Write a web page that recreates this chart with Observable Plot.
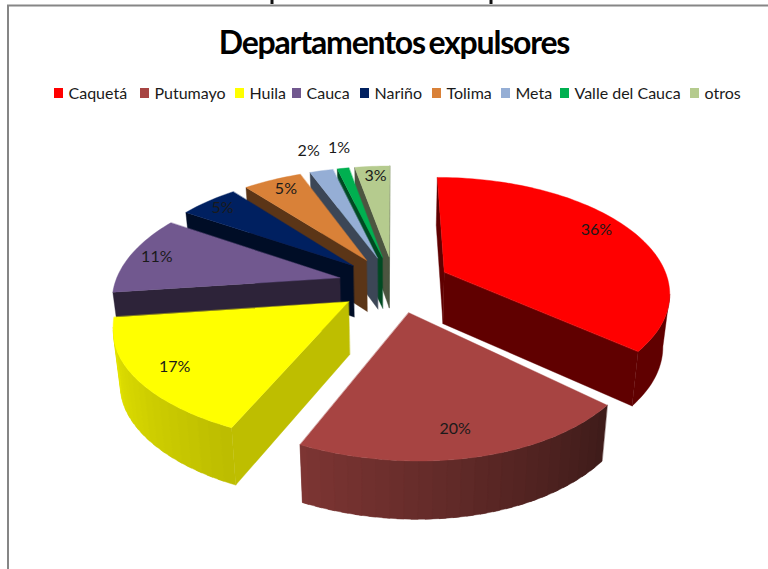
<!DOCTYPE html>
<html>
<head>
<meta charset="utf-8">
<script src="https://cdn.jsdelivr.net/npm/d3@7"></script>
<script src="https://cdn.jsdelivr.net/npm/@observablehq/plot@0.6"></script>
<style>html,body{margin:0;padding:0;background:#fff}svg{display:block}</style>
</head>
<body>
<div id="chart"></div>
<script>
// ---- chart values ----
const categories = ["Caquetá","Putumayo","Huila","Cauca","Nariño","Tolima","Meta","Valle del Cauca","otros"];
const values = [36,20,17,11,5,5,2,1,3];
const topColors = ["#ff0000","#a74442","#ffff00","#71588f","#002060","#d98138","#95aed5","#00b050","#b5cb8e"];
const endWall = ["#600000","#3f1c1a","#bebe00","#2d2339","#000d26","#5b3517","#3c4656","#004a22","#4c5540"];
const rimLeft = ["#600000","#7d3533","#e4e400","#2d2339","#000d26","#5b3517","#3c4656","#004a22","#4c5540"];
const rimRight = ["#600000","#3f1c1a","#bdbd00","#2d2339","#000d26","#5b3517","#3c4656","#004a22","#4c5540"];
const paintOrder = [8,7,6,5,4,3,2,1,0];
const legendSwatchX = [54,140,235,292,360,432,501,560,690];
const labelDx = [-4,-5,1,-7,-7,0,0,5,1];
const labelDy = [-2,1,4,2,0,0,3,3,0];
const title = "Departamentos expulsores";

// ---- projection of the tilted, exploded pie ----
const view = {cx:393.7, cy:283.5, A:225, D:113.7, p:0.163, explode:0.25, depth:52, converge:0.975, skewX:11.7, skewY:12.7};
const project = (X,Y) => {
  const w = 1 + view.p*Y;
  const t = Math.min(0,Y+0.4);
  return {
    x:view.cx + view.A*X/w + view.skewX*t,
    y:view.cy - view.D*Y/w - view.skewY*(X-0.1)*t,
    w
  };
};
const base = q => ({x:view.cx + (q.x-view.cx)*view.converge, y:q.y + view.depth/Math.sqrt(q.w)});
const rad = d => d*Math.PI/180;

let acc = 0;
const slices = values.map((v,i)=>{
  const a0 = acc/100*360; acc += v; const a1 = acc/100*360;
  const m = (a0+a1)/2;
  const ex = view.explode*Math.sin(rad(m)), ey = view.explode*Math.cos(rad(m));
  const at = (r,a)=>project(ex + r*Math.sin(rad(a)), ey + r*Math.cos(rad(a)));
  return {i,a0,a1,m,at};
});

const polys = [];
let pid = 0;
const addPoly = (pts,color)=>{ const id = pid++; pts.forEach(p=>polys.push({id,x:p.x,y:p.y,color})); };
const wall = (U,V,color)=>{ if(U.x>V.x) addPoly([U,V,base(V),base(U)],color); };

for(const idx of paintOrder){
  const s = slices[idx];
  const n = Math.max(4,Math.ceil((s.a1-s.a0)/1.5));
  const rim = d3.range(n+1).map(k=>s.at(1,s.a0+(s.a1-s.a0)*k/n));
  const apex = s.at(0,s.m);
  wall(apex,rim[0],endWall[idx]);
  wall(rim[n],apex,endWall[idx]);
  const vis = [];
  for(let k=0;k<n;k++) if(rim[k].x>rim[k+1].x) vis.push(k);
  if(vis.length){
    if(rimLeft[idx]===rimRight[idx]){
      const run = [...vis,vis[vis.length-1]+1].map(k=>rim[k]);
      addPoly([...run,...run.slice().reverse().map(base)],rimLeft[idx]);
    } else {
      const shade = d3.interpolateRgb(rimRight[idx],rimLeft[idx]);
      const nb = Math.ceil(vis.length/2);
      for(let b=0;b<nb;b++){
        const from = vis[0]+b*2;
        const to = Math.min(vis[vis.length-1]+1,from+3);
        const run = d3.range(from,to+1).map(k=>rim[k]);
        addPoly([...run,...run.slice().reverse().map(base)],shade(nb>1?b/(nb-1):0));
      }
    }
  }
  addPoly([apex,...rim],topColors[idx]);
}

const labels = slices.map((s,i)=>{
  const q = s.at(values[i]<3?1.27:0.84,s.m);
  return {x:q.x+labelDx[i],y:q.y-3+labelDy[i],text:values[i]+"%"};
});
const legendRows = categories.map((c,i)=>({c,x:legendSwatchX[i],color:topColors[i]}));
const font = "Lato, 'Open Sans', sans-serif";

const plot = Plot.plot({
  width:768,height:569,margin:0,
  style:{background:"#fff",fontFamily:font},
  x:{domain:[0,768],range:[0,768],axis:null},
  y:{domain:[0,569],range:[0,569],axis:null},
  color:{type:"identity"},
  marks:[
    Plot.ruleY([5],{x1:7,x2:768,stroke:"#868686",strokeWidth:2}),
    Plot.ruleX([7.5],{y1:5,y2:569,stroke:"#868686",strokeWidth:2}),
    Plot.ruleX([271.5,490.5],{y1:0,y2:4,stroke:"#111",strokeWidth:3}),
    Plot.line(polys,{x:"x",y:"y",z:"id",fill:"color",stroke:"color",strokeWidth:0.4,curve:"linear-closed"}),
    Plot.text(labels,{x:"x",y:"y",text:"text",fontSize:16,fill:"#1a1a1a"}),
    Plot.text([title],{x:393.5,y:43,text:d=>d,fontSize:32,fontWeight:700,fill:"#000"}),
    Plot.rect(legendRows,{x1:"x",x2:d=>d.x+9,y1:88,y2:98,fill:"color"}),
    Plot.text(legendRows,{x:d=>d.x+14,y:93,text:"c",textAnchor:"start",fontSize:16,fill:"#1a1a1a"})
  ]
});
plot.querySelectorAll("text").forEach(t=>{
  if(t.textContent===title){ t.style.letterSpacing="-1.2px"; t.style.wordSpacing="-3px"; }
});
document.getElementById("chart").append(plot);
</script>
</body>
</html>
